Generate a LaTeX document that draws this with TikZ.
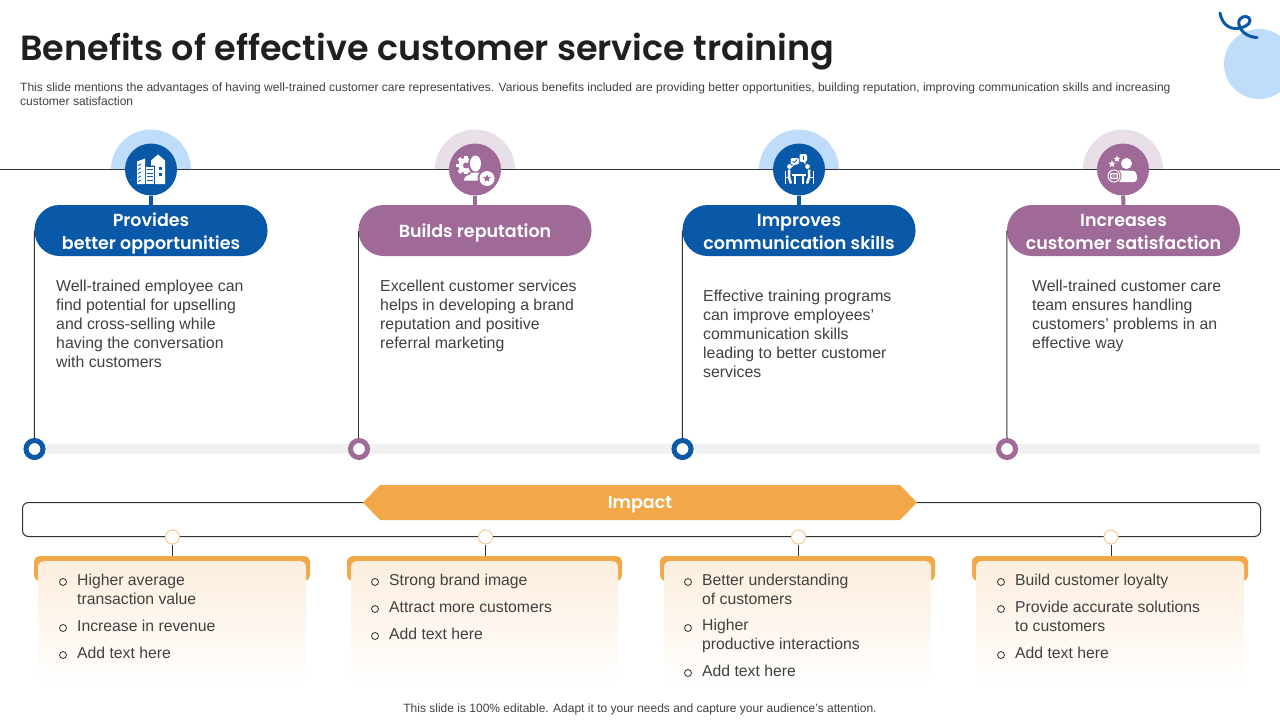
\documentclass[tikz,border=0pt]{standalone}
\usepackage{fontspec}
\setmainfont{Liberation Sans}
\newfontfamily\headf{Poppins}[UprightFont=* Medium,BoldFont=* SemiBold]
\usetikzlibrary{shapes.geometric,calc}
\definecolor{cblue}{HTML}{0A58A8}
\definecolor{cpurple}{HTML}{A06A98}
\definecolor{lblue}{HTML}{BFDDFA}
\definecolor{lpurple}{HTML}{E9DFE8}
\definecolor{corange}{HTML}{F2A848}
\definecolor{cpeach}{HTML}{FCEEDD}
\definecolor{cbar}{HTML}{F1F1F1}
\definecolor{ctext}{HTML}{404040}
\definecolor{cline}{HTML}{333333}
\tikzset{
  x=1pt,y=-1pt,
  thin line/.style={draw=cline,line width=1pt},
  pill/.style={minimum width=233pt,minimum height=51pt,rounded corners=25pt,inner sep=0pt,align=center},
  pilltext/.style={inner sep=0pt,align=center,text=white,font=\headf\bfseries\fontsize{17.5}{23}\selectfont},
  disc/.style={circle,minimum size=52pt,inner sep=0pt},
  ring/.style={circle,minimum size=17pt,inner sep=0pt,line width=5pt,fill=white},
  body/.style={anchor=north west,inner sep=0pt,align=left,text=ctext,font=\fontsize{15.85}{19}\selectfont},
  item/.style={anchor=north west,inner sep=0pt,align=left,text=ctext,font=\fontsize{15.75}{19}\selectfont},
  bul/.style={circle,draw=cline,line width=0.8pt,minimum size=7pt,inner sep=0pt},
  tick/.style={circle,draw=corange!60!white,fill=white,line width=1pt,minimum size=14pt,inner sep=0pt},
}
\newcommand{\halo}[2]{\fill[#2] ($(#1)+(-40,0)$) arc[start angle=180,end angle=0,radius=40pt] -- cycle;}
\begin{document}
\begin{tikzpicture}
\useasboundingbox (0,0) rectangle (1280,720);
% corner
\begin{scope}
\clip (0,0) rectangle (1280,720);
\fill[lblue] (1259,64) circle[radius=35pt];
\end{scope}
\draw[cblue,line width=3pt,line cap=round] (1220,13) .. controls (1222,24) and (1229,29) .. (1237,28.5)
  .. controls (1243,28) and (1250,25) .. (1250,20.5) .. controls (1250,16) and (1243,15) .. (1240,19)
  .. controls (1236,24) and (1242,37) .. (1257,37.5);
% title
\node[anchor=base west,inner sep=0pt,text=black!88,font=\headf\bfseries\fontsize{35}{40}\selectfont] (title) at (20,60.5) {Benefits of effective customer service training};
\node[anchor=north west,inner sep=0pt,align=left,text=ctext,font=\fontsize{12.03}{14}\selectfont] (sub) at (20,83) {This slide mentions the advantages of having well-trained customer care representatives. Various benefits included are providing better opportunities, building reputation, improving communication skills and increasing\\customer satisfaction};
% timeline
\coordinate (hl) at (0,169.5); \coordinate (hr) at (1280,169.5);
\coordinate (h1) at (151,169.5); \coordinate (h2) at (475,169.5); \coordinate (h3) at (799,169.5); \coordinate (h4) at (1123,169.5);
\halo{h1}{lblue}\halo{h2}{lpurple}\halo{h3}{lblue}\halo{h4}{lpurple}
\draw[thin line] (hl) -- (hr);
\fill[cbar] (34,444) rectangle (1260,454);
% pills
\node[pill,fill=cblue] (p1) at (151,230.5) {};
\node[pill,fill=cpurple] (p2) at (475,230.5) {};
\node[pill,fill=cblue] (p3) at (799,230.5) {};
\node[pill,fill=cpurple] (p4) at (1123.5,230.5) {};
\node[pilltext] (l1) at (151,233) {Provides\\better opportunities};
\node[pilltext] (l2) at (475,233) {Builds reputation};
\node[pilltext] (l3) at (799,232) {Improves\\communication skills};
\node[pilltext] (l4) at (1123.5,232) {Increases\\customer satisfaction};
\node[disc,fill=cblue] (d1) at (h1) {};
\node[disc,fill=cpurple] (d2) at (h2) {};
\node[disc,fill=cblue] (d3) at (h3) {};
\node[disc,fill=cpurple] (d4) at (h4) {};
\draw[cblue,line width=4pt] (d1) -- (p1);
\draw[cpurple,line width=4pt] (d2) -- (p2);
\draw[cblue,line width=4pt] (d3) -- (p3);
\draw[cpurple,line width=4pt] (d4) -- (p4);
% rings
\node[ring,draw=cblue] (r1) at (34.5,449) {};
\node[ring,draw=cpurple] (r2) at (359,449) {};
\node[ring,draw=cblue] (r3) at (682.5,449) {};
\node[ring,draw=cpurple] (r4) at (1007,449) {};
\draw[thin line] (p1.west) -- (r1);
\draw[thin line] (p2.west) -- (p2.west |- r2.north);
\draw[thin line] (p3.west) -- (r3);
\draw[thin line] (p4.west) -- (r4);
% body
\node[body] (b1) at (56,279.5) {Well-trained employee can\\find potential for upselling\\and cross-selling while\\having the conversation\\with customers};
\node[body] (b2) at (380,279.5) {Excellent customer services\\helps in developing a brand\\reputation and positive\\referral marketing};
\node[body] (b3) at (703,289.5) {Effective training programs\\can improve employees’\\communication skills\\leading to better customer\\services};
\node[body] (b4) at (1032,279.5) {Well-trained customer care\\team ensures handling\\customers’ problems in an\\effective way};
% impact
\draw[thin line,rounded corners=6pt] (22.5,502.5) rectangle (1260.5,536.5);
\fill[corange] (363,502.5) -- (380,485) -- (900,485) -- (917,502.5) -- (900,520) -- (380,520) -- cycle;
\node[inner sep=0pt,text=white,font=\headf\bfseries\fontsize{17.5}{22}\selectfont] (imp) at (640,504.5) {Impact};
% cards
\newcommand{\card}[2]{%
  \fill[corange,rounded corners=6pt] (#1,556) rectangle (#2,581);
  \path[top color=cpeach,bottom color=white,rounded corners=6pt] (#1+4,686) -- (#1+4,561) -- (#2-4,561) -- (#2-4,686) -- cycle;
}
\card{34}{310}\card{347}{622}\card{660}{935}\card{972}{1248}
\node[tick] (t1) at (172.5,537) {};
\node[tick] (t2) at (485.5,537) {};
\node[tick] (t3) at (798.5,537) {};
\node[tick] (t4) at (1111,537) {};
\coordinate (c1) at (172.5,556); \coordinate (c2) at (485.5,556); \coordinate (c3) at (798.5,556); \coordinate (c4) at (1111,556);
\draw[thin line] (t1) -- (c1); \draw[thin line] (t2) -- (c2); \draw[thin line] (t3) -- (c3); \draw[thin line] (t4) -- (c4);
% bullets and items
\node[item] (i11) at (77,574) {Higher average\\transaction value};
\node[item] (i12) at (77,620) {Increase in revenue};
\node[item] (i13) at (77,647) {Add text here};
\node[bul] at (63,582) {}; \node[bul] at (63,628) {}; \node[bul] at (63,655) {};
\node[item] (i21) at (389,574) {Strong brand image};
\node[item] (i22) at (389,601) {Attract more customers};
\node[item] (i23) at (389,628) {Add text here};
\node[bul] at (375,582) {}; \node[bul] at (375,609) {}; \node[bul] at (375,636) {};
\node[item] (i31) at (702,574) {Better understanding\\of customers};
\node[item] (i32) at (702,619) {Higher\\productive interactions};
\node[item] (i33) at (702,665) {Add text here};
\node[bul] at (688,582) {}; \node[bul] at (688,628) {}; \node[bul] at (688,673) {};
\node[item] (i41) at (1015,574) {Build customer loyalty};
\node[item] (i42) at (1015,601) {Provide accurate solutions\\to customers};
\node[item] (i43) at (1015,647) {Add text here};
\node[bul] at (1001,582) {}; \node[bul] at (1001,609) {}; \node[bul] at (1001,655) {};
\node[inner sep=0pt,text=ctext,font=\fontsize{12}{14}\selectfont] (foot) at (640,709.5) {This slide is 100\% editable. Adapt it to your needs and capture your audience's attention.};
% icon 1: buildings
\begin{scope}[shift={(h1)}]
\fill[white] (-14,14.5) -- (-14,-8) -- (-6,-11) -- (-6,14.5) -- cycle;
\fill[white] (-5,14.5) rectangle (3,-3);
\fill[white] (0,-9) -- (7,-15) -- (14,-9) -- (14,14.5) -- (4,14.5) -- (4,-4) -- (0,-4) -- cycle;
\fill[cblue] (8,-3) rectangle (11,0); \fill[cblue] (8,3) rectangle (11,6);
\foreach \yy in {0,3.5,7,10.5} \draw[cblue,line width=.8pt] (-4,\yy) -- (2,\yy);
\foreach \yy in {-4,0,4,8,12} \draw[cblue,line width=.8pt] (-13,\yy) -- (-10,\yy-1.5);
\end{scope}
% icon 2: person gear star
\begin{scope}[shift={(h2)}]
\fill[white] (-9,-4) circle[radius=7.5pt];
\foreach \a in {0,45,...,315} \fill[white,shift={(-9,-4)},rotate=\a] (6,-1.8) rectangle (10,1.8);
\fill[cpurple] (-9,-4) circle[radius=3pt];
\fill[cpurple] (0.5,-5) ellipse[x radius=7.5pt,y radius=10pt];
\fill[cpurple] (-13,4) rectangle (10,16);
\fill[white] (0.5,-6) ellipse[x radius=5.5pt,y radius=8pt];
\fill[white] (-11,11) .. controls (-11,6) and (-6,6) .. (-2,3) -- (4,3) .. controls (7,6) and (10,6) .. (11,11) -- cycle;
\fill[cpurple] (12,9) circle[radius=9.5pt];
\fill[white] (12,9) circle[radius=7.5pt];
\node[star,star points=5,star point ratio=2.2,fill=cpurple,minimum size=8pt,inner sep=0pt] (s2) at (12,9) {};
\end{scope}
% icon 3: meeting
\begin{scope}[shift={(h3)}]
\fill[white,rounded corners=2pt] (-8.5,-11.5) rectangle (0,-5);
\fill[white] (-6,-6) -- (-7,-2.5) -- (-3,-6) -- cycle;
\fill[white,rounded corners=2pt] (0.5,-15.5) rectangle (8,-7.5);
\fill[white] (4,-8) -- (6.5,-5) -- (6.5,-8) -- cycle;
\draw[cblue,line width=.8pt] (-6.5,-8) -- (-4.5,-7) -- (-2,-10);
\draw[cblue,line width=.8pt] (4.2,-13.5) -- (4.2,-9.5);
\fill[white] (-9.5,-3) circle[radius=2.4pt]; \fill[white] (8.5,-3) circle[radius=2.4pt];
\fill[white] (-7,4) rectangle (7,6);
\draw[white,line width=1.5pt] (-4,6) -- (-4,14); \draw[white,line width=1.5pt] (4,6) -- (4,14);
\draw[white,line width=2.5pt] (-10,0) -- (-10,8) -- (-8,14);
\draw[white,line width=2.5pt] (10,0) -- (10,8) -- (8,14);
\draw[white,line width=1pt] (-14,1) -- (-14,14) (-14,8) -- (-9,8); \draw[white,line width=1pt] (14,1) -- (14,14) (14,8) -- (9,8);
\end{scope}
% icon 4: person stars
\begin{scope}[shift={(h4)}]
\fill[white] (3.5,-6) circle[radius=5.5pt];
\fill[white,rounded corners=3pt] (-6,12.5) -- (-6,3) .. controls (-4,1) and (11,1) .. (14,4) -- (14,12.5) -- cycle;
\node[star,star points=5,star point ratio=2.3,fill=white,minimum size=7.5pt,inner sep=0pt] (s4a) at (-11,-5.5) {};
\node[star,star points=5,star point ratio=2.3,fill=white,minimum size=7pt,inner sep=0pt] (s4b) at (-6,-10.5) {};
\fill[cpurple] (-9,6.5) circle[radius=7.5pt];
\draw[white,line width=1pt] (-9,6.5) circle[radius=6pt];
\fill[white,rounded corners=1pt] (-13,3.5) rectangle (-5,9.5);
\fill[lpurple!40!cpurple,rounded corners=1pt] (-12,4.5) rectangle (-6,8.5);
\end{scope}
\end{tikzpicture}
\end{document}
